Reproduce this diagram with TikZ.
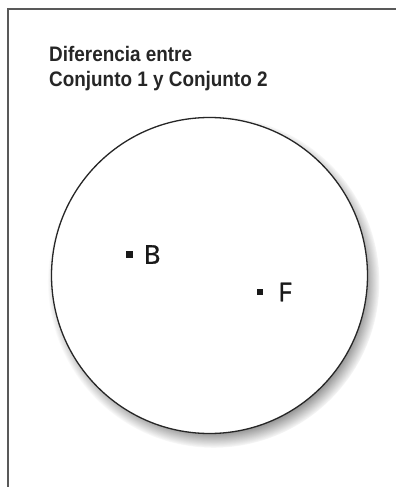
\documentclass[tikz,border=0pt]{standalone}
\usepackage{fontspec}
\setmainfont{Liberation Sans}
\newfontfamily\titfont[FakeStretch=0.9]{Liberation Sans}
\newfontfamily\letfont[FakeBold=1.2]{Open Sans}
\usetikzlibrary{shadows, fadings, positioning}

\begin{document}
\begin{tikzpicture}[
        x=1pt, y=-1pt,
        marco/.style={draw=black!65, line width=1.8pt},
        titulo/.style={anchor=north west, align=left, inner sep=0pt, font=\titfont\bfseries\fontsize{21}{25.5}\selectfont, text=black!85},
        conj/.style={circle, draw=black!85, line width=1.3pt, fill=white, minimum size=316pt, inner sep=0pt,
            circular drop shadow={shadow scale=1.05, shadow xshift=4pt, shadow yshift=-6pt, opacity=.8, fill=black!80}},
        punto/.style={rectangle, fill=black!90, minimum size=6.5pt, inner sep=0pt},
        etiq/.style={inner sep=0pt, font=\letfont\fontsize{26}{26}\selectfont, text=black!90}
    ]
        \useasboundingbox (0, 0) rectangle (396, 487);
        \draw[marco] (8, 487) -- (8, 9) -- (396, 9);
        \node[titulo] (tit) at (49, 46) {Diferencia entre\\Conjunto 1 y Conjunto 2};
        \node[conj] (c) at (209.5, 275.5) {};
        \node[punto] (b) at (129.5, 254.5) {};
        \node[punto] (f) at (260, 292) {};
        \node[etiq, right=14pt of b.center, anchor=west] (lb) {B};
        \node[etiq, right=18pt of f.center, anchor=west] (lf) {F};
    \end{tikzpicture}
\end{document}
